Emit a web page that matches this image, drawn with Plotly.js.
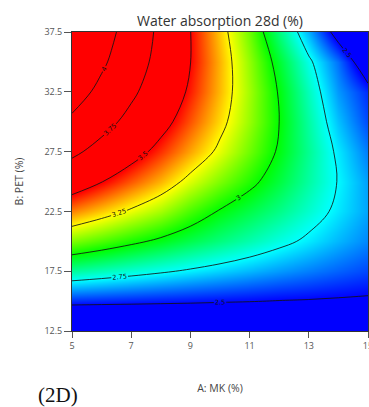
<!DOCTYPE html>
<html>
<head>
<meta charset="utf-8">
<script src="https://cdn.plot.ly/plotly-3.0.1.min.js"></script>
<style>html,body{margin:0;padding:0;background:#fff;}#chart{width:369px;height:407px;}</style>
</head>
<body>
<div id="chart"></div>
<script>
// A: MK (%) grid values
const mkValues = [5, 6, 7, 8, 9, 10, 11, 12, 13, 14, 15];
// B: PET (%) grid values
const petValues = [12.5, 15, 17.5, 20, 22.5, 25, 27.5, 30, 32.5, 35, 37.5];
// Water absorption 28d (%) (rows = PET, cols = MK)
const waterAbs = [
  [2.211, 2.226, 2.241, 2.256, 2.271, 2.286, 2.301, 2.315, 2.330, 2.345, 2.360],
  [2.543, 2.536, 2.530, 2.523, 2.517, 2.510, 2.504, 2.497, 2.493, 2.488, 2.485],
  [2.848, 2.820, 2.792, 2.764, 2.736, 2.708, 2.680, 2.652, 2.624, 2.596, 2.568],
  [3.125, 3.076, 3.026, 2.977, 2.927, 2.878, 2.829, 2.779, 2.730, 2.680, 2.631],
  [3.375, 3.304, 3.233, 3.163, 3.072, 2.991, 2.930, 2.869, 2.798, 2.728, 2.660],
  [3.598, 3.505, 3.413, 3.321, 3.215, 3.120, 3.030, 2.940, 2.840, 2.745, 2.655],
  [3.793, 3.679, 3.565, 3.452, 3.338, 3.224, 3.105, 2.985, 2.855, 2.730, 2.620],
  [3.961, 3.825, 3.690, 3.555, 3.420, 3.285, 3.145, 3.000, 2.840, 2.690, 2.570],
  [4.101, 3.944, 3.788, 3.631, 3.475, 3.318, 3.155, 2.990, 2.815, 2.650, 2.540],
  [4.214, 4.036, 3.858, 3.680, 3.502, 3.324, 3.140, 2.955, 2.770, 2.610, 2.400],
  [4.300, 4.100, 3.901, 3.702, 3.502, 3.303, 3.103, 2.880, 2.670, 2.440, 2.220]
];
const xTicks = [5, 7, 9, 11, 13, 15];
const yTicks = [12.5, 17.5, 22.5, 27.5, 32.5, 37.5];
const yTickText = ['12.5', '17.5', '22.5', '27.5', '32.5', '37.5'];

const trace = {
  type: 'contour',
  x: mkValues,
  y: petValues,
  z: waterAbs,
  zauto: false,
  zmin: 2.5,
  zmax: 3.5,
  colorscale: [
    [0, 'rgb(0,0,255)'],
    [0.25, 'rgb(0,255,255)'],
    [0.5, 'rgb(0,255,0)'],
    [0.75, 'rgb(255,255,0)'],
    [1, 'rgb(255,0,0)']
  ],
  showscale: false,
  contours: {
    coloring: 'heatmap',
    start: 2.5,
    end: 4,
    size: 0.25,
    showlabels: true,
    labelformat: '~g',
    labelfont: {family: 'DejaVu Sans', size: 6.5, color: '#111'}
  },
  line: {color: 'rgba(20,20,20,0.85)', width: 1, smoothing: 1},
  hoverinfo: 'skip'
};

const layout = {
  width: 369,
  height: 407,
  margin: {l: 72, r: 1, t: 32, b: 76},
  paper_bgcolor: '#fff',
  plot_bgcolor: '#fff',
  showlegend: false,
  title: {
    text: 'Water absorption 28d (%)',
    font: {family: 'Open Sans', size: 14, color: '#333'},
    x: 0.5,
    xanchor: 'center',
    xref: 'paper',
    yref: 'container',
    y: 1 - 21 / 407,
    yanchor: 'middle'
  },
  xaxis: {
    range: [5, 15],
    tickvals: xTicks,
    ticks: 'outside',
    ticklen: 6,
    tickcolor: '#555',
    ticklabeloverflow: 'allow',
    showline: true,
    linecolor: '#333',
    linewidth: 1,
    mirror: true,
    showgrid: false,
    zeroline: false,
    tickfont: {family: 'Open Sans', size: 9, color: '#555'},
    title: {text: 'A: MK (%)', font: {family: 'Open Sans', size: 10.5, color: '#444'}, standoff: 33}
  },
  yaxis: {
    range: [12.5, 37.5],
    tickvals: yTicks,
    ticktext: yTickText,
    ticks: 'outside',
    ticklen: 7,
    tickcolor: '#555',
    showline: true,
    linecolor: '#333',
    linewidth: 1,
    mirror: true,
    showgrid: false,
    zeroline: false,
    tickfont: {family: 'Open Sans', size: 9, color: '#555'},
    title: {text: 'B: PET (%)', font: {family: 'Open Sans', size: 10.5, color: '#444'}, standoff: 18}
  },
  annotations: [{
    text: '(2D)',
    xref: 'paper', yref: 'paper',
    x: -0.047, y: -0.214,
    xanchor: 'center', yanchor: 'middle',
    showarrow: false,
    font: {family: 'Liberation Serif', size: 21, color: '#111'}
  }]
};

Plotly.newPlot('chart', [trace], layout, {staticPlot: true, displayModeBar: false});
</script>
</body>
</html>
